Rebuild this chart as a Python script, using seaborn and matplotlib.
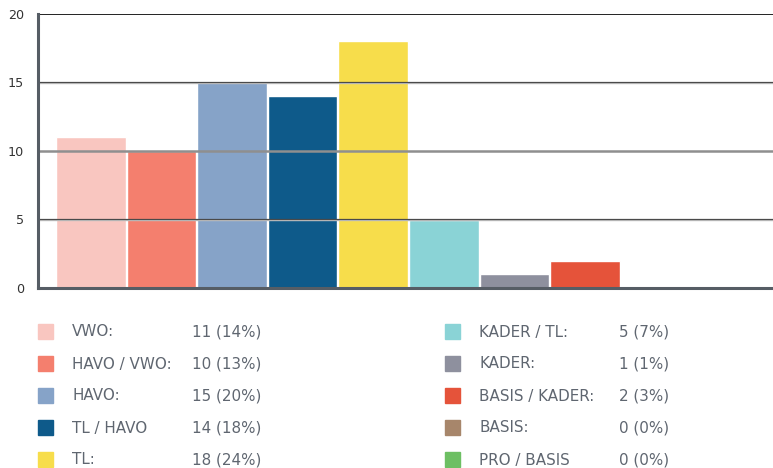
import matplotlib
matplotlib.use('Agg')
import matplotlib.pyplot as plt
import seaborn as sns
import pandas as pd
from matplotlib.patches import Rectangle

categories = ['VWO', 'HAVO / VWO', 'HAVO', 'TL / HAVO', 'TL',
              'KADER / TL', 'KADER', 'BASIS / KADER', 'BASIS', 'PRO / BASIS']
legend_labels = ['VWO:', 'HAVO / VWO:', 'HAVO:', 'TL / HAVO', 'TL:',
                 'KADER / TL:', 'KADER:', 'BASIS / KADER:', 'BASIS:', 'PRO / BASIS']
counts = [11, 10, 15, 14, 18, 5, 1, 2, 0, 0]
colors = ['#f9c6c0', '#f47f6e', '#86a3c8', '#0e5a8a', '#f7dd4b',
          '#8ad3d6', '#8e909e', '#e5533a', '#a7866b', '#6dbf63']
yticks = [0, 5, 10, 15, 20]

df = pd.DataFrame({'cat': categories, 'count': counts})
total = sum(counts)

sns.set_style('white')
plt.rcParams['font.family'] = ['DejaVu Sans']

fig = plt.figure(figsize=(7.73, 4.68), dpi=100)
ax = fig.add_axes([38 / 773, 180 / 468, 735 / 773, 274 / 468])

sns.barplot(data=df, x='cat', y='count', hue='cat', palette=colors,
            width=0.985, legend=False, ax=ax, saturation=1, zorder=1)

ax.set_xlim(-0.747, 9.66)
ax.set_ylim(0, 20)
ax.set_yticks(yticks)
ax.set_yticklabels([str(t) for t in yticks], fontsize=9.2, color='#333333')
ax.tick_params(axis='y', length=0, pad=10)
ax.set_xticks([])
ax.set_xlabel('')
ax.set_ylabel('')

# gridlines drawn over the bars
for t in yticks[1:]:
    if t == 10:
        ax.axhline(t, color='#8f8f8f', lw=1.8, zorder=3)
    elif t == 20:
        ax.axhline(t, color='#222222', lw=1.4, zorder=4)
    else:
        ax.axhline(t - 0.04, color='#c4c4c4', lw=1.0, zorder=3)
        ax.axhline(t + 0.02, color='#4a4a4a', lw=0.9, zorder=4)

for side in ['top', 'right']:
    ax.spines[side].set_visible(False)
for side in ['left', 'bottom']:
    ax.spines[side].set_color('#565d65')
    ax.spines[side].set_linewidth(2.2)
    ax.spines[side].set_zorder(5)

# legend, two columns of five
row_y = [331, 363, 395, 427, 459]
col_x = [(38, 72, 192), (445, 479, 619)]
for i, (lab, c, col) in enumerate(zip(legend_labels, counts, colors)):
    sx, lx, vx = col_x[i // 5]
    y = row_y[i % 5]
    fig.patches.append(Rectangle((sx / 773, 1 - (y + 7.5) / 468), 15 / 773, 15 / 468,
                                 transform=fig.transFigure, color=col))
    pct = round(100 * c / total)
    base = 1 - (y + 5.5) / 468
    fig.text(lx / 773, base, lab, fontsize=10.9, color='#5f6670',
             va='baseline', ha='left')
    fig.text(vx / 773, base, f'{c} ({pct}%)', fontsize=10.9,
             color='#5f6670', va='baseline', ha='left')

fig.savefig('out.png', dpi=100)
